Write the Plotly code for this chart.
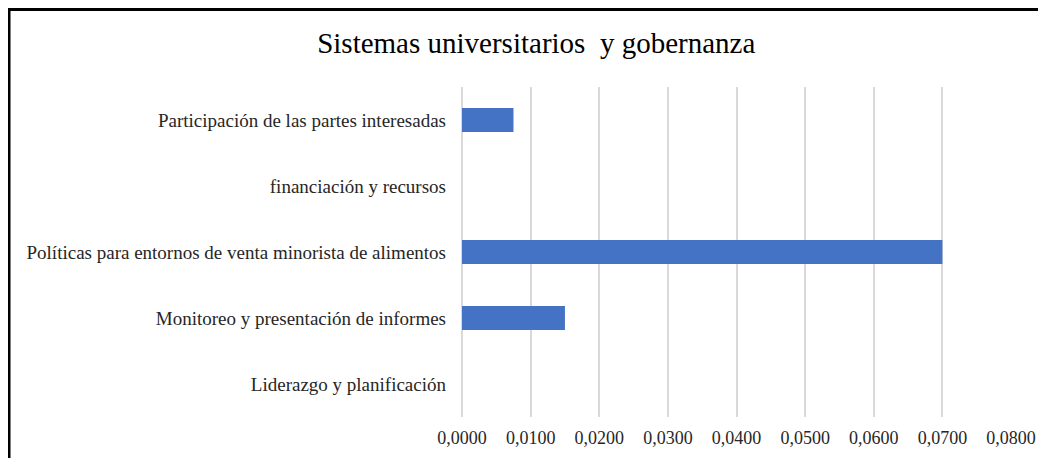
import plotly.graph_objects as go

categories = [
    "Liderazgo y planificación",
    "Monitoreo y presentación de informes",
    "Políticas para entornos de venta minorista de alimentos",
    "financiación y recursos",
    "Participación de las partes interesadas",
]
values = [0.0, 0.015, 0.07, 0.0, 0.0075]
tick_vals = [0.00, 0.01, 0.02, 0.03, 0.04, 0.05, 0.06, 0.07, 0.08]

font = "Liberation Serif, Times New Roman, serif"

# the page adds an 8px body margin, so the figure is laid out 8px up and left
fig = go.Figure(
    go.Bar(
        x=values,
        y=categories,
        orientation="h",
        marker=dict(color="#4472c4", line=dict(width=0)),
    )
)

fig.update_layout(
    width=1046,
    height=458,
    margin=dict(l=454, r=43, t=79, b=49),
    paper_bgcolor="white",
    plot_bgcolor="white",
    separators=",.",
    bargap=0.64,
    showlegend=False,
    font=dict(family=font, size=16, color="#404040"),
    title=dict(
        text="Sistemas universitarios  y gobernanza",
        font=dict(family=font, size=29, color="#000000"),
        x=0.505,
        xanchor="center",
        xref="container",
        y=0.925,
        yanchor="middle",
    ),
    xaxis=dict(
        range=[0, 0.08],
        tickvals=tick_vals,
        tickformat=".4f",
        showgrid=True,
        gridcolor="#d9d9d9",
        gridwidth=1.5,
        zeroline=True,
        zerolinecolor="#d9d9d9",
        zerolinewidth=1.5,
        showline=False,
        ticks="",
        automargin=False,
        ticklabelstandoff=8,
        tickfont=dict(family=font, size=18, color="#262626"),
    ),
    yaxis=dict(
        showgrid=False,
        zeroline=False,
        showline=False,
        ticks="",
        automargin=False,
        ticklabelstandoff=15,
        tickfont=dict(family=font, size=19, color="#262626"),
    ),
    shapes=[
        dict(
            type="rect",
            xref="paper",
            yref="paper",
            x0=(1 - 454) / 549,
            x1=1.3,
            y0=-0.5,
            y1=(409 - 1.5) / 330,
            line=dict(color="black", width=3),
            fillcolor="rgba(0,0,0,0)",
            layer="above",
        )
    ],
)

fig.write_html("out.html")
